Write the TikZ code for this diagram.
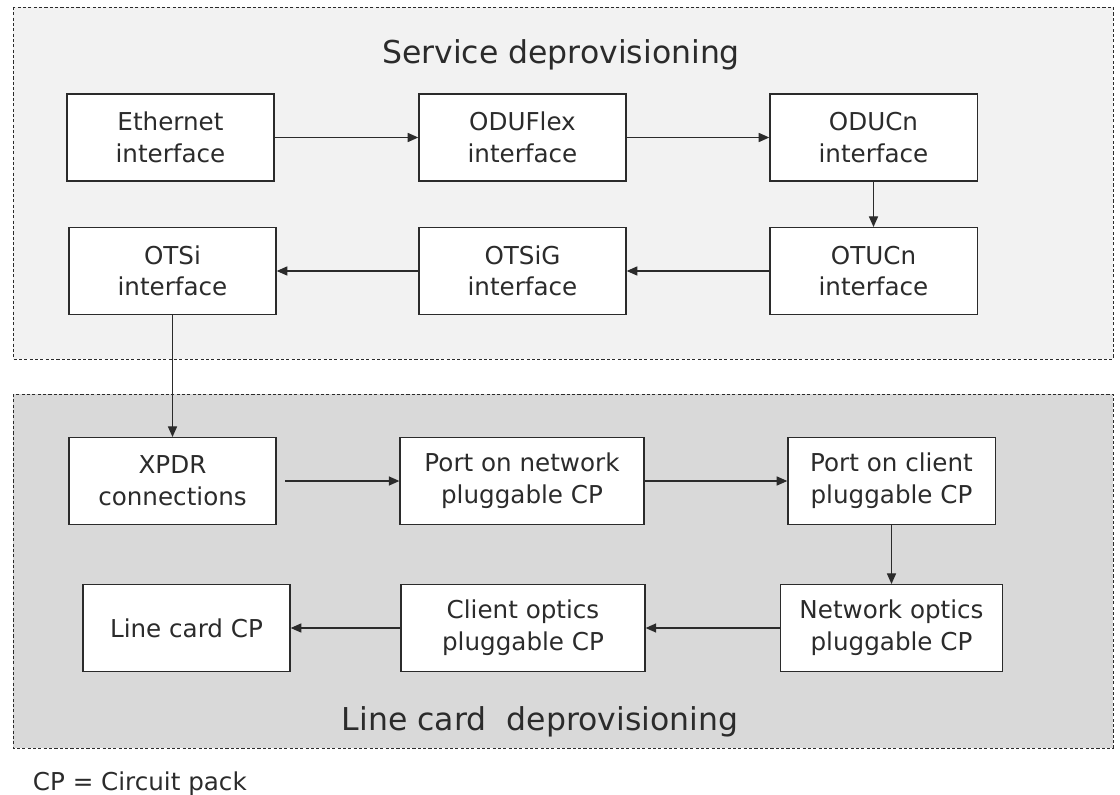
\documentclass[tikz,border=0pt]{standalone}
\usepackage{fontspec}
\setmainfont{DejaVu Sans}
\usetikzlibrary{arrows.meta}

\definecolor{servbg}{HTML}{F2F2F2}
\definecolor{linebg}{HTML}{D9D9D9}
\definecolor{ink}{HTML}{2B2B2B}

\tikzset{
  area/.style={draw=ink, dash pattern=on 2.2pt off 1.6pt, line width=0.6pt},
  block/.style={draw=ink, fill=white, line width=0.9pt, align=center,
    minimum width=5.18cm, minimum height=2.17cm, inner sep=2pt,
    text=ink, font=\fontsize{17.5}{22.5}\selectfont},
  wideblock/.style={block, minimum width=6.1cm},
  flow/.style={-{Triangle[length=7.5pt,width=6.5pt]}, draw=ink, line width=0.75pt},
  heading/.style={text=ink, font=\fontsize{22.4}{26}\selectfont, anchor=base}
}

\begin{document}
\begin{tikzpicture}[x=0.025cm, y=-0.025cm]
  \useasboundingbox (0,0) rectangle (1120,795);

  % Obszary
  \fill[servbg] (13,7) rectangle (1113,359);
  \draw[area] (13,7) rectangle (1113,359);
  \fill[linebg] (13,394) rectangle (1113,748);
  \draw[area] (13,394) rectangle (1113,748);

  \node[heading] (servtitle) at (561,64) {Service deprovisioning};
  \node[heading] (linetitle) at (540,730) {Line card~ deprovisioning};

  % Service deprovisioning
  \node[block] (eth) at (170.5,137.5) {Ethernet\\interface};
  \node[block] (oduflex) at (522.5,137.5) {ODUFlex\\interface};
  \node[block] (oducn) at (873.5,137.5) {ODUCn\\interface};
  \node[block] (otsi) at (172.5,271) {OTSi\\interface};
  \node[block] (otsig) at (522.5,271) {OTSiG\\interface};
  \node[block] (otucn) at (873.5,271) {OTUCn\\interface};

  % Line card deprovisioning
  \node[block] (xpdr) at (172.5,481) {XPDR\\connections};
  \node[wideblock] (portnet) at (522,481) {Port on network\\pluggable CP};
  \node[block] (portcli) at (891.5,481) {Port on client\\pluggable CP};
  \node[block] (linecard) at (186.5,628) {Line card CP};
  \node[wideblock] (clientopt) at (523,628) {Client optics\\pluggable CP};
  \node[block, minimum width=5.55cm] (netopt) at (891.5,628)
    {Network optics\\pluggable CP};

  % Przejscia
  \draw[flow] (eth) -- (oduflex);
  \draw[flow] (oduflex) -- (oducn);
  \draw[flow] (oducn) -- (otucn);
  \draw[flow] (otucn) -- (otsig);
  \draw[flow] (otsig) -- (otsi);
  \draw[flow] (otsi) -- (xpdr);
  \draw[flow, shorten <=6pt] (xpdr) -- (portnet);
  \draw[flow] (portnet) -- (portcli);
  \draw[flow] (portcli) -- (netopt);
  \draw[flow] (netopt) -- (clientopt);
  \draw[flow] (clientopt) -- (linecard);

  \node[anchor=base west, text=ink, font=\fontsize{17.5}{21}\selectfont]
    (legend) at (28,790) {CP = Circuit pack};
\end{tikzpicture}
\end{document}
